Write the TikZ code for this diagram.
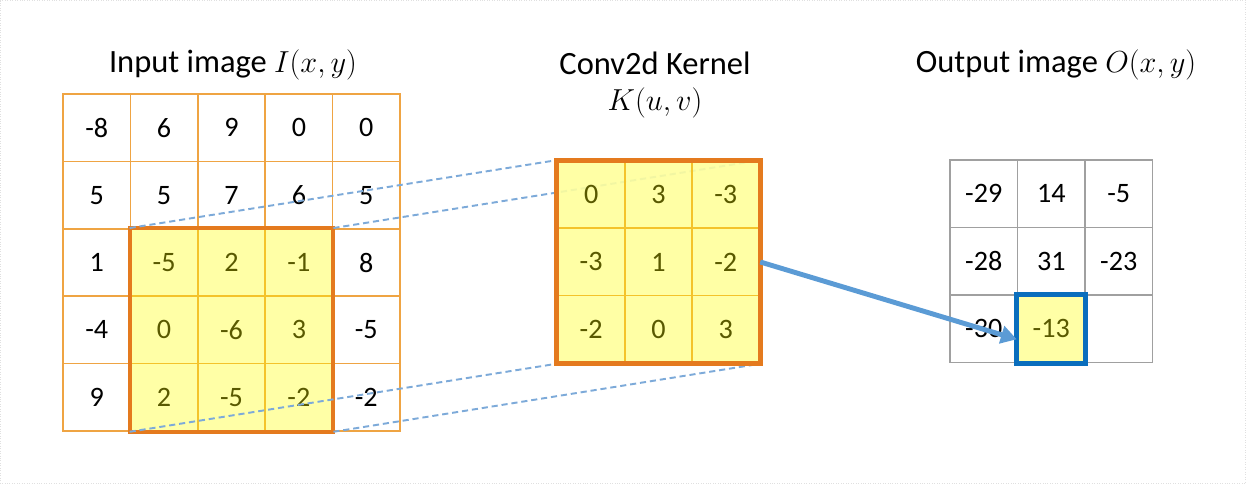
\documentclass[tikz,border=0pt]{standalone}
\usepackage{fontspec}
\setmainfont{Carlito}
\usetikzlibrary{arrows.meta}
\definecolor{gridorange}{HTML}{EFA443}
\definecolor{boxorange}{HTML}{E47A1E}
\definecolor{hiyellow}{HTML}{FFFF00}
\definecolor{dashblue}{HTML}{7DAAD9}
\definecolor{arrowblue}{HTML}{5B9BD5}
\definecolor{cellblue}{HTML}{0A6EBD}
\definecolor{outgray}{HTML}{A0A0A0}
\begin{document}
\begin{tikzpicture}[x=0.02cm,y=-0.02cm,
	every node/.style={font=\fontsize{16}{19}\selectfont},
	cell/.style={draw=gridorange,line width=0.9pt,fill=white,minimum size=1.348cm,inner sep=0},
	kcell/.style={cell,fill opacity=0.85,text opacity=1},
	ocell/.style={cell,draw=outgray},
	title/.style={font=\fontsize{18.5}{22}\selectfont,align=center},
	hilite/.style={fill=hiyellow,fill opacity=0.35},
	link/.style={dashblue,line width=1.1pt,dash pattern=on 3.5pt off 2.2pt}]
\useasboundingbox (0,0) rectangle (1246,484);
\draw[black!12,densely dotted] (0.5,0.5) rectangle (1245.5,483.5);
% input image
\foreach \row [count=\r] in {{-8,6,9,0,0},{5,5,7,6,5},{1,-5,2,-1,8},{-4,0,-6,3,-5},{9,2,-5,-2,-2}}
	\foreach \v [count=\c] in \row
		\node[cell] (in-\r-\c) at ({63+67.4*(\c-0.5)},{94+67.4*(\r-0.5)}) {\v};
\fill[hilite] (in-3-2.north west) rectangle (in-5-4.south east);
\draw[boxorange,line width=2.3pt] (in-3-2.north west) rectangle (in-5-4.south east);
\node[title] (intitle) at (233,65) {Input image $I(x,y)$};
% kernel
\foreach \row [count=\r] in {{0,3,-3},{-3,1,-2},{-2,0,3}}
	\foreach \v [count=\c] in \row
		\node[kcell] (ker-\r-\c) at ({557.5+67.3*(\c-0.5)},{161+67.3*(\r-0.5)}) {\v};
\draw[link] (in-3-2.north west) -- (ker-1-1.north west);
\draw[link] (in-3-4.north east) -- (ker-1-3.north east);
\draw[link] (in-5-2.south west) -- (ker-3-1.south west);
\draw[link] (in-5-4.south east) -- (ker-3-3.south east);
\foreach \r/\c in {1/1,1/2,1/3,2/1,2/2,2/3,3/1,3/2,3/3}
	\node[kcell] at (ker-\r-\c) {};
\foreach \row [count=\r] in {{0,3,-3},{-3,1,-2},{-2,0,3}}
	\foreach \v [count=\c] in \row
		\node at (ker-\r-\c) {\v};
\fill[hilite] (ker-1-1.north west) rectangle (ker-3-3.south east);
\draw[boxorange,line width=2.8pt] (ker-1-1.north west) rectangle (ker-3-3.south east);
\node[title] (kertitle) at (655,63) {Conv2d Kernel};
\node[title] (kermath) at (655,103) {$K(u,v)$};
% output image
\foreach \row [count=\r] in {{-29,14,-5},{-28,31,-23},{-30,-13,}}
	\foreach \v [count=\c] in \row
		\node[ocell] (out-\r-\c) at ({950+67.5*(\c-0.5)},{160+67.5*(\r-0.5)}) {\v};
\fill[hilite] (out-3-2.north west) rectangle (out-3-2.south east);
\draw[cellblue,line width=2.8pt] (out-3-2.north west) rectangle (out-3-2.south east);
\node[title] (outtitle) at (1056,65) {Output image $O(x,y)$};
\draw[arrowblue,line width=2.8pt,-{Triangle[length=9pt,width=10pt]}] (ker-2-3.east) -- ([yshift=-6pt]out-3-2.west);
\end{tikzpicture}
\end{document}
